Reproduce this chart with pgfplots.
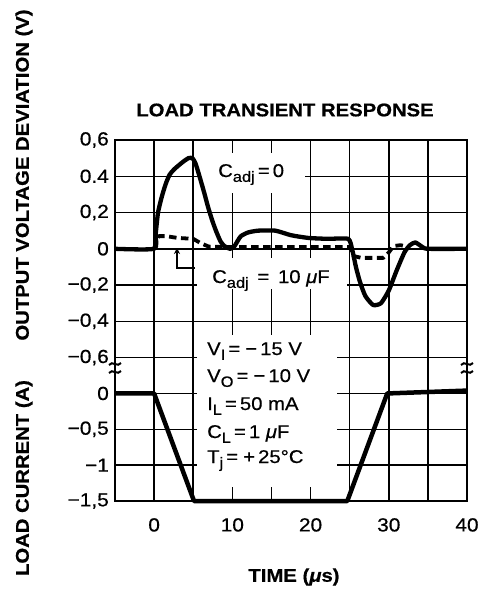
\documentclass[border=0pt]{standalone}
\usepackage{fontspec}
\setmainfont{Liberation Sans}[FakeStretch=1.1, FakeBold=0.6]
\usepackage{pgfplots}
\pgfplotsset{compat=1.18}
\usetikzlibrary{arrows.meta}
\newcommand\sub[1]{\raisebox{-0.5ex}{\fontsize{15}{15}\selectfont #1}}
\newcommand\lab{\fontsize{18.5}{18.5}\selectfont\bfseries}
\newcommand\ann{\fontsize{18.5}{18.5}\selectfont}
\newcommand\pad[1]{#1\hspace{7bp}}
\pgfplotsset{chartbase/.style={scale only axis, width=352bp, xmin=-5, xmax=40,
  xtick={-5,0,...,40}, grid=major, grid style={line width=1.5bp, black},
  axis line style={draw=none}, major tick length=0pt,
  tick label style={font=\fontsize{19}{19}\selectfont},
  yticklabel style={anchor=east, inner sep=0pt, xshift=-6bp},
  xticklabel style={anchor=north, inner sep=0pt, yshift=-17bp},
  clip=false, anchor=north west}}
\begin{document}
\begin{tikzpicture}[x=1bp,y=1bp]
\useasboundingbox (0,0) rectangle (485,-590);
% load current axis
\begin{axis}[chartbase, at={(115bp,-357.6bp)}, height=143.4bp,
  ymin=-1.5, ymax=0.5, ytick={-1.5,-1,-0.5,0},
  yticklabels={{−1,5},{\pad{−1}},{−0,5\hspace{3bp}},{\pad{0}}},
  xticklabels={,0,,10,,20,,30,,40}]
\addplot[line width=4.5bp, line join=round] coordinates {(-5,0) (0,0) (5.1,-1.5) (24.7,-1.5) (29.8,0) (40,0.04)};
\end{axis}
% voltage axis (grid)
\begin{axis}[chartbase, at={(115bp,-140bp)}, height=217.6bp,
  ymin=-0.6, ymax=0.6, ytick={-0.6,-0.4,-0.2,0,0.2,0.4,0.6},
  yticklabels={{−0,6},{−0,4},{−0,2},{\pad{0}},{\pad{0,2}},{\pad{0.4}},{\pad{0,6}}},
  xticklabels={}]
\end{axis}
% white label areas
\fill[white] (200,-153) rectangle (305,-193);
\fill[white] (197,-258) rectangle (347,-289);
\fill[white] (197,-335) rectangle (337,-487);
% voltage curves
\begin{axis}[scale only axis, width=352bp, height=217.6bp, at={(115bp,-140bp)}, anchor=north west,
  xmin=-5, xmax=40, ymin=-0.6, ymax=0.6, hide axis, clip=false]
\addplot[line width=3.8bp, dash pattern=on 7.5bp off 4.5bp, line join=round] coordinates {
 (0,0) (0.3,0.05) (0.6,0.07) (1.5,0.07) (3,0.06) (5,0.055) (6,0.03) (7,0.012) (9,0.01) (15,0.01) (20,0.01) (25,0.01)
 (25.5,-0.04) (26.5,-0.05) (29.3,-0.05) (30,-0.02) (30.6,0.015) (31.5,0.02) (32.5,0.01)};
\addplot[line width=4.3bp, line join=round, smooth, tension=0.35] coordinates {
 (-5,0) (0,0) (0.2,0.08) (0.5,0.2) (1,0.29) (1.5,0.36) (2,0.41) (2.6,0.44) (3.7,0.48) (4.4,0.5) (4.9,0.5)
 (5.3,0.47) (5.8,0.4) (6.4,0.31) (6.9,0.23) (7.4,0.16) (7.9,0.1) (8.5,0.04) (9,0.015) (9.7,0)
 (10.2,0.01) (10.7,0.045) (11.1,0.07) (12,0.09) (13.3,0.1) (15.5,0.1) (17.5,0.075) (19.7,0.06) (22.2,0.055) (24.8,0.055)
 (25.3,0.0) (25.8,-0.1) (26.3,-0.18) (27,-0.26) (28,-0.31) (29,-0.3) (30,-0.23) (31,-0.12) (32,-0.02)
 (32.7,0.02) (33.4,0.035) (34.3,0.01) (35,0) (40,0)};
\end{axis}
% frame with breaks
\draw[line width=2.6bp] (115,-363) -- (115,-140) -- (467,-140) -- (467,-363);
\draw[line width=2.6bp] (115,-373) -- (115,-501) -- (467,-501) -- (467,-373);
\foreach \xx in {115,467}{
  \draw[line width=2bp] (\xx-6,-365) .. controls (\xx-3,-360) and (\xx+3,-368) .. (\xx+6,-363);
  \draw[line width=2bp] (\xx-6,-373) .. controls (\xx-3,-368) and (\xx+3,-376) .. (\xx+6,-371);
}
% pointer
\draw[line width=1.6bp, -{Stealth[length=6bp,width=6bp]}] (195,-268) -- (177,-268) -- (177,-248);
% annotations
\node[anchor=base west, inner sep=0pt] at (218,-177) {\ann C\sub{adj}\,=\,0};
\node[anchor=base west, inner sep=0pt] at (212,-283) {\ann C\sub{adj} \,=\, 10 \textit{μ}F};
\node[anchor=base west, inner sep=0pt] at (207,-355) {\ann V\sub{I}\,=\;−\,15 V};
\node[anchor=base west, inner sep=0pt] at (207,-382) {\ann V\sub{O}\,=\;−\,10 V};
\node[anchor=base west, inner sep=0pt] at (207,-410) {\ann I\sub{L}\,=\,50 mA};
\node[anchor=base west, inner sep=0pt] at (207,-438) {\ann C\sub{L}\,=\,1 \textit{μ}F};
\node[anchor=base west, inner sep=0pt] at (207,-463) {\ann T\sub{j}\,=\;+\,25°C};
% titles
\node at (285,-110) {\lab LOAD TRANSIENT RESPONSE};
\node[rotate=90] at (24,-175) {\lab OUTPUT VOLTAGE DEVIATION (V)};
\node[rotate=90] at (24,-478) {\lab LOAD CURRENT (A)};
\node at (294,-577) {\lab TIME (\textit{μ}s)};
\end{tikzpicture}
\end{document}
